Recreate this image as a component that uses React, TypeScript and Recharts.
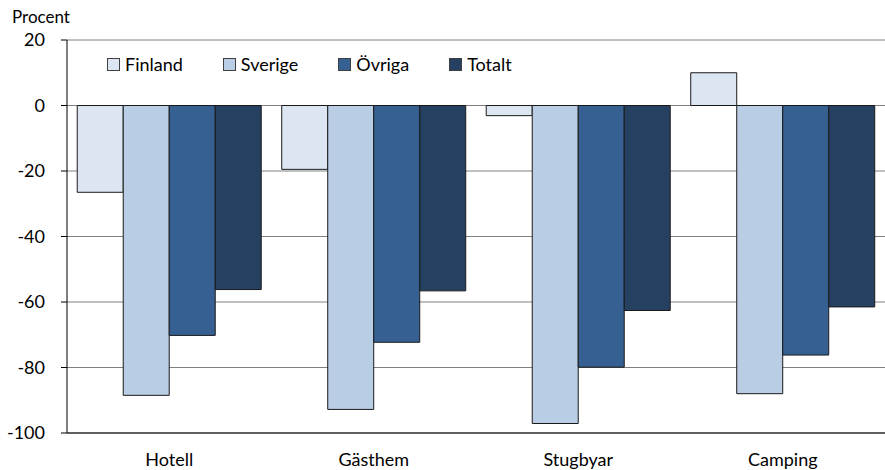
import { BarChart, Bar, XAxis, YAxis, CartesianGrid } from 'recharts'

const categories = ['Hotell', 'Gästhem', 'Stugbyar', 'Camping']
const finland = [-26.5, -19.5, -3.1, 10]
const sverige = [-88.5, -92.8, -97.1, -88]
const ovriga = [-70.2, -72.3, -79.9, -76.2]
const totalt = [-56.2, -56.6, -62.6, -61.5]
const yTicks = [-100, -80, -60, -40, -20, 0, 20]

const series = [
  { key: 'Finland', values: finland, color: '#DCE6F2' },
  { key: 'Sverige', values: sverige, color: '#B9CDE5' },
  { key: 'Övriga', values: ovriga, color: '#376092' },
  { key: 'Totalt', values: totalt, color: '#254061' }
]

const data = categories.map((name, i) => {
  const row: Record<string, string | number> = { name }
  series.forEach((s) => {
    row[s.key] = s.values[i]
  })
  return row
})

const FONT = 'Lato, "Open Sans", sans-serif'

function LegendBox() {
  return (
    <div
      style={{
        position: 'absolute',
        left: 107,
        top: 55,
        display: 'flex',
        alignItems: 'center',
        fontFamily: FONT,
        fontSize: 18,
        lineHeight: '18px',
        color: '#000'
      }}
    >
      {series.map((s) => (
        <div key={s.key} style={{ display: 'flex', alignItems: 'center', marginRight: 40 }}>
          <span
            style={{
              display: 'inline-block',
              width: 11,
              height: 11,
              background: s.color,
              border: '1px solid #404040',
              marginRight: 5
            }}
          />
          <span>{s.key}</span>
        </div>
      ))}
    </div>
  )
}

export default function App() {
  return (
    <div style={{ position: 'absolute', left: 0, top: 0, width: 885, height: 470, background: '#fff' }}>
      <div
        style={{
          position: 'absolute',
          left: 12,
          top: 8,
          fontFamily: FONT,
          fontSize: 17,
          lineHeight: '17px',
          color: '#000'
        }}
      >
        Procent
      </div>
      <BarChart
        width={885}
        height={470}
        data={data}
        margin={{ top: 40, right: 0, bottom: 0, left: 0 }}
        barCategoryGap="5%"
        barGap={0}
      >
        <CartesianGrid horizontal vertical={false} stroke="#808080" strokeOpacity={1} />
        <XAxis
          dataKey="name"
          height={37}
          tickLine={false}
          tickSize={6}
          tickMargin={14}
          axisLine={{ stroke: '#000' }}
          tick={{ fill: '#000', fontSize: 18, fontFamily: FONT }}
        />
        <YAxis
          width={67}
          domain={[-100, 20]}
          ticks={yTicks}
          interval={0}
          tickSize={6}
          tickMargin={16}
          axisLine={{ stroke: '#000' }}
          tickLine={{ stroke: '#000' }}
          tick={{ fill: '#000', fontSize: 18, fontFamily: FONT }}
        />
        {series.map((s) => (
          <Bar
            key={s.key}
            dataKey={s.key}
            fill={s.color}
            stroke="#1a1a1a"
            strokeWidth={1}
            isAnimationActive={false}
          />
        ))}
      </BarChart>
      <LegendBox />
    </div>
  )
}
